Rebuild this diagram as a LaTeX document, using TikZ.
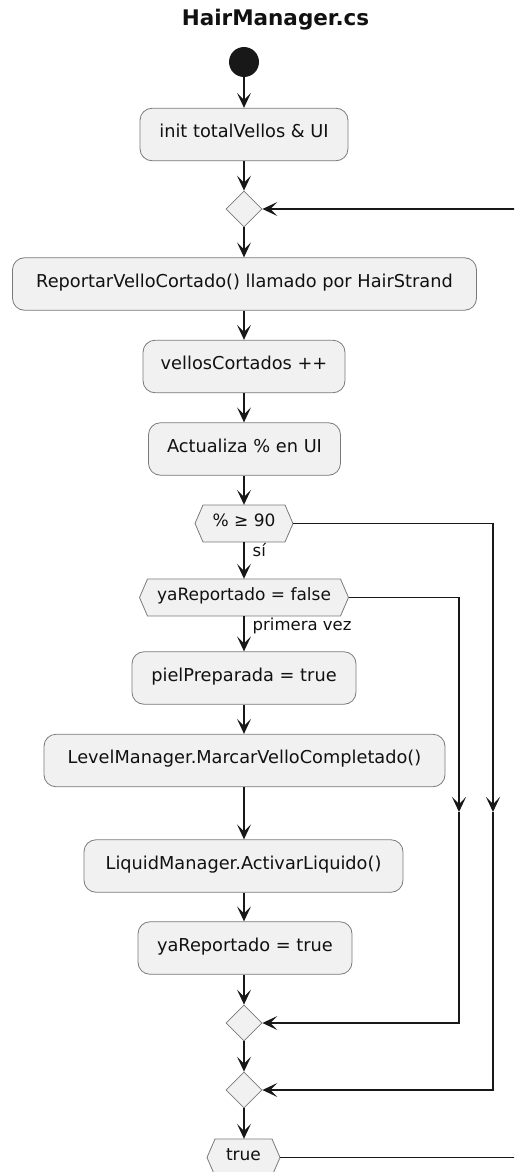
\documentclass[tikz,border=0pt]{standalone}
\usepackage{fontspec}
\setmainfont{DejaVu Sans}
\usetikzlibrary{arrows.meta,shapes.geometric}

\definecolor{boxfill}{HTML}{F1F1F1}
\definecolor{boxline}{HTML}{7A7A7A}
\definecolor{flow}{HTML}{181818}
\definecolor{ink}{HTML}{111111}

% decision hexagon: name, centre x, centre y, half width, label
\newcommand\hexdecision[5]{%
  \filldraw[hexline] (#2-#4,#3) -- (#2-#4+8,#3-18.5) -- (#2+#4-8,#3-18.5)
    -- (#2+#4,#3) -- (#2+#4-8,#3+18.5) -- (#2-#4+8,#3+18.5) -- cycle;
  \node[hextext, minimum width=2*#4pt] (#1) at (#2,#3) {#5};}

\begin{document}
\begin{tikzpicture}[
  x=1pt, y=-1pt,
  >={Stealth[length=15pt,width=14pt,inset=7pt]},
  flowline/.style={draw=flow, line width=1.4pt},
  arr/.style={flowline, ->},
  act/.style={rectangle, rounded corners=12pt, draw=boxline, fill=boxfill,
    line width=0.8pt, minimum height=52.5pt, inner sep=0pt, text=ink,
    font=\fontsize{17.75}{22}\selectfont, text height=0.72em, text depth=0.1em},
  merge/.style={diamond, draw=boxline, fill=boxfill, line width=0.8pt,
    minimum width=36pt, minimum height=36pt, inner sep=0pt},
  hexline/.style={draw=boxline, fill=boxfill, line width=0.8pt},
  hextext/.style={rectangle, minimum height=37pt, inner sep=0pt, text=ink,
    font=\fontsize{17}{20}\selectfont, text height=0.72em, text depth=0.1em},
  startdot/.style={circle, fill=flow, minimum size=30pt, inner sep=0pt},
  lbl/.style={text=ink, font=\fontsize{16.5}{20}\selectfont, inner sep=0pt,
    anchor=base west, xshift=8pt},
]
\useasboundingbox (0,0) rectangle (514,1172);
\clip (0,0) rectangle (514,1172);

\node[text=ink, font=\fontsize{21.5}{25}\selectfont\bfseries, anchor=base, inner sep=0pt]
  (title) at (275.5,26) {HairManager.cs};

% main column
\node[startdot] (start) at (244,62) {};
\node[act, minimum width=208pt] (init) at (244,134.5) {init totalVellos \& UI};
\node[merge] (loop) at (244,209) {};
\node[act, minimum width=464pt] (report) at (244.5,284) {ReportarVelloCortado() llamado por HairStrand};
\node[act, minimum width=202pt] (count) at (244,366.5) {vellosCortados ++};
\node[act, minimum width=192pt] (ui) at (244.5,449) {Actualiza \% en UI};
\hexdecision{pct}{244}{523.5}{49}{\% ≥ 90}
\hexdecision{first}{244}{597.5}{104.5}{yaReportado = false}
\node[act, minimum width=224pt] (skin) at (244,678) {pielPreparada = true};
\node[act, minimum width=401pt] (level) at (244.5,760.5) {LevelManager.MarcarVelloCompletado()};
\node[act, minimum width=319pt] (liquid) at (243.5,866) {LiquidManager.ActivarLiquido()};
\node[act, minimum width=214pt] (done) at (245,948) {yaReportado = true};
\node[merge] (join1) at (244,1023) {};
\node[merge] (join2) at (244,1090) {};
\hexdecision{again}{243.5}{1157.5}{36.5}{true}

% bend points of the side branches
\coordinate (skipA) at (459,812);
\coordinate (skipB) at (493,812);
\coordinate (loopcorner) at (530,209);

% straight flow
\draw[arr] (start) -- (init);
\draw[arr] (init) -- (loop);
\draw[arr] (loop) -- (report.north -| loop);
\draw[arr] (report.south -| loop) -- (count);
\draw[arr] (count) -- (ui.north -| count);
\draw[arr] (ui.south -| count) -- (pct);
\draw[arr] (pct) -- node[lbl, pos=0.4] {sí} (first);
\draw[arr] (first) -- node[lbl, pos=0.42] {primera vez} (skin);
\draw[arr] (skin) -- (level.north -| skin);
\draw[arr] (level.south -| skin) -- (liquid.north -| skin);
\draw[arr] (liquid.south -| skin) -- (done.north -| skin);
\draw[arr] (done.south -| skin) -- (join1);
\draw[arr] (join1) -- (join2);
\draw[arr] (join2) -- (again.north -| join2);

% side branches
\draw[arr] (first.east) -| (skipA);
\draw[arr] (skipA) |- (join1.east);
\draw[arr] (pct.east) -| (skipB);
\draw[arr] (skipB) |- (join2.east);

% loop back
\draw[arr] (again.east) -| (loopcorner) -- (loop.east);
\end{tikzpicture}
\end{document}
